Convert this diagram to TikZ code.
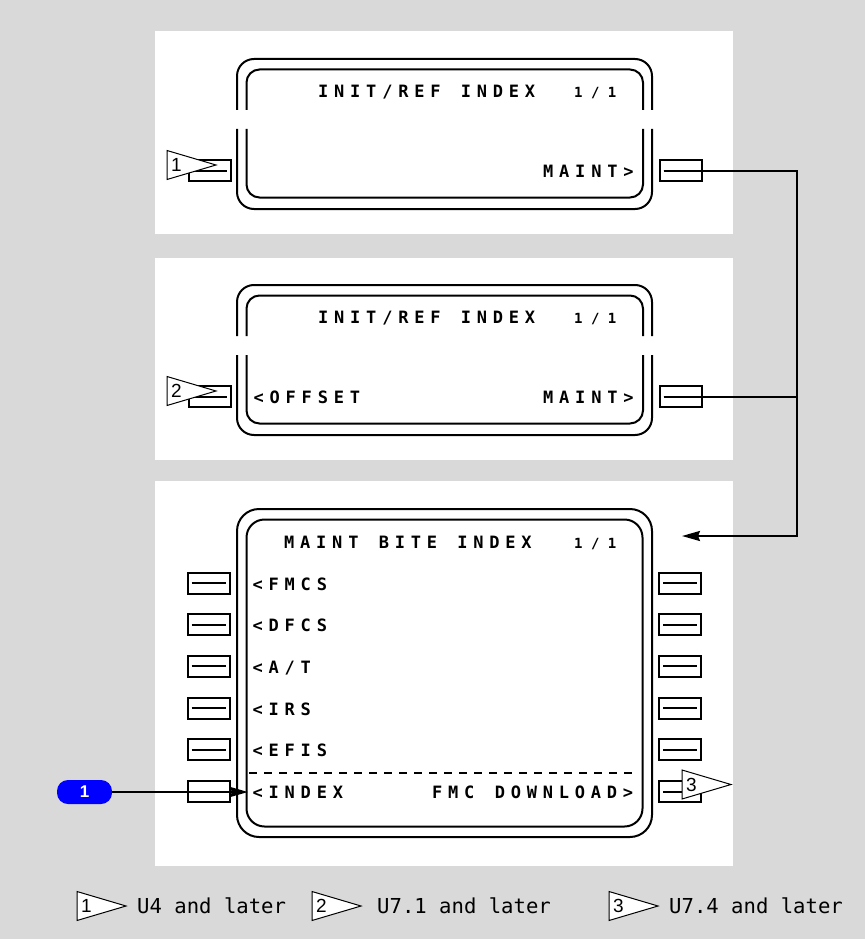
\documentclass[tikz,border=0pt]{standalone}
\usepackage{fontspec}
\usepackage{tikz}
\usetikzlibrary{arrows.meta}

\setsansfont{Liberation Sans}
\newfontfamily\cdufont[LetterSpace=34,WordSpace=1.27]{DejaVu Sans Mono}
\newfontfamily\cdupage[LetterSpace=60]{DejaVu Sans Mono}
\newfontfamily\legendfont{DejaVu Sans Mono}
\definecolor{panelgray}{RGB}{217,217,217}
\definecolor{calloutblue}{RGB}{0,0,255}

\begin{document}
\begin{tikzpicture}[
  x=1pt,
  y=-1pt,
  every node/.style={inner sep=0pt},
  panel/.style={fill=white, draw=none},
  screenline/.style={line width=2pt},
  lskey/.style={
    draw,
    line width=2pt,
    minimum width=42pt,
    minimum height=21pt,
    path picture={\draw[line width=2pt]
      ([xshift=4pt]path picture bounding box.west) --
      ([xshift=-4pt]path picture bounding box.east);}
  },
  cdu/.style={font=\cdufont\bfseries\fontsize{17}{17}\selectfont, anchor=base west},
  pagenum/.style={font=\cdupage\bfseries\fontsize{14}{14}\selectfont, anchor=base west},
  flagtri/.style={draw, line width=1pt, fill=white},
  flagnum/.style={font=\sffamily\fontsize{19}{19}\selectfont},
  legend/.style={font=\legendfont\fontsize{20.6}{20.6}\selectfont, anchor=base west},
  conn/.style={line width=2pt},
  arrow/.style={conn, -{Stealth[length=18pt,width=10pt,inset=2pt]}},
  callout/.style={
    fill=calloutblue,
    rounded corners=11pt,
    minimum width=55pt,
    minimum height=24pt,
    text=white,
    font=\sffamily\bfseries\fontsize{17}{17}\selectfont
  }
]
\useasboundingbox (0,0) rectangle (865,939);
\fill[panelgray] (0,0) rectangle (865,939);

% white panels
\fill[panel] (155,31) rectangle (733,234);
\fill[panel] (155,258) rectangle (733,460);
\fill[panel] (155,481) rectangle (733,866);

% INIT/REF INDEX screens (sides broken)
\foreach \dy in {0,226} {
  \draw[screenline, rounded corners=17pt] (237,{110+\dy}) -- (237,{59+\dy}) -- (652,{59+\dy}) -- (652,{110+\dy});
  \draw[screenline, rounded corners=17pt] (237,{129+\dy}) -- (237,{209+\dy}) -- (652,{209+\dy}) -- (652,{129+\dy});
  \draw[screenline, rounded corners=13pt] (246.5,{110+\dy}) -- (246.5,{69.5+\dy}) -- (643,{69.5+\dy}) -- (643,{110+\dy});
  \draw[screenline, rounded corners=13pt] (246.5,{129+\dy}) -- (246.5,{197.5+\dy}) -- (643,{197.5+\dy}) -- (643,{129+\dy});
}

% MAINT BITE INDEX screen
\draw[screenline, rounded corners=22pt] (237,509) rectangle (652,837);
\draw[screenline, rounded corners=18pt] (246.5,519.5) rectangle (642.5,826.5);

% line select keys
\node[lskey] (l1) at (209.5,170.5) {};
\node[lskey] (r1) at (680.5,170.5) {};
\node[lskey] (l2) at (209.5,396.5) {};
\node[lskey] (r2) at (680.5,396.5) {};
\foreach \k in {0,...,5} {
  \node[lskey] (bl\k) at (208.5,{583+41.7*\k}) {};
  \node[lskey] (br\k) at (680,{583+41.7*\k}) {};
}

% page texts
\node[cdu] (title1) at (318,97.7) {INIT/REF INDEX};
\node[pagenum] (page1) at (574,97.7) {1/1};
\node[cdu] (maint1) at (543,177.5) {MAINT>};

\node[cdu] (title2) at (318,323.5) {INIT/REF INDEX};
\node[pagenum] (page2) at (574,323.5) {1/1};
\node[cdu] (offset) at (253.5,403.5) {<OFFSET};
\node[cdu] (maint2) at (543,403.5) {MAINT>};

\node[cdu] (title3) at (284,548) {MAINT BITE INDEX};
\node[pagenum] (page3) at (574,548) {1/1};
\foreach \lbl [count=\k from 0] in {FMCS,DFCS,A/T,IRS,EFIS,INDEX}
  \node[cdu] (row\k) at (252.5,{590+41.7*\k}) {<\lbl};
\node[cdu] (fmcdl) at (432,798.5) {FMC DOWNLOAD>};
\draw[line width=1.5pt, dash pattern=on 8pt off 7pt] (249,773) -- (632,773);

% MAINT> keys lead to the BITE index
\coordinate (elbow) at (797,536);
\coordinate (bitein) at (682,536);
\draw[arrow] ([xshift=5pt]r1.west) -| (elbow) -- (bitein);
\draw[conn] ([xshift=5pt]r2.west) -- (r2 -| elbow);

% callout 1
\node[callout] (callout) at (84.5,792) {1};
\coordinate (idxtip) at ([xshift=-4.5pt]row5.west);
\draw[arrow] (callout) -- (callout -| idxtip);

% effectivity flags
\foreach \fx/\fy/\fn in {167/165/1, 167/391/2, 682/784.5/3, 77/906/1, 312/906/2, 609/906/3} {
  \draw[flagtri] (\fx,{\fy-14.5}) -- ({\fx+49},\fy) -- (\fx,{\fy+14.5}) -- cycle;
  \node[flagnum] (flag\fn-\fx) at ({\fx+9.5},\fy) {\fn};
}

% legend
\node[legend] (leg1) at (137,913) {U4 and later};
\node[legend] (leg2) at (377,913) {U7.1 and later};
\node[legend] (leg3) at (669,913) {U7.4 and later};
\end{tikzpicture}
\end{document}
